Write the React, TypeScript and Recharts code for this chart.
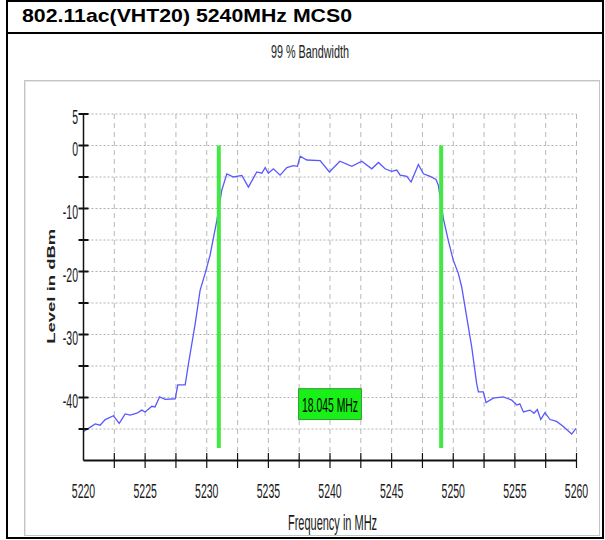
import React from "react";
import {
  LineChart,
  Line,
  XAxis,
  YAxis,
  CartesianGrid,
  ReferenceLine,
  ReferenceArea,
} from "recharts";

// spectrum trace
const freqMHz = [
  5220.0, 5220.4, 5220.95, 5221.35, 5221.76, 5222.43, 5222.9, 5223.38, 5223.79, 5224.33,
  5224.73, 5225.0, 5225.55, 5225.8, 5226.17, 5226.63, 5227.44, 5227.65, 5228.25, 5228.52,
  5229.06, 5229.46, 5229.87, 5230.27, 5230.82, 5231.22, 5231.63, 5232.17, 5232.85, 5233.38,
  5234.06, 5234.47, 5234.74, 5235.0, 5235.41, 5235.95, 5236.5, 5237.03, 5237.36, 5237.58,
  5238.12, 5239.2, 5239.95, 5240.8, 5241.77, 5242.58, 5243.39, 5243.93, 5244.47, 5245.0,
  5245.42, 5245.69, 5246.23, 5246.58, 5247.17, 5247.58, 5248.12, 5248.6, 5248.79, 5249.2,
  5249.6, 5250.0, 5250.41, 5250.69, 5251.09, 5251.5, 5251.9, 5252.04, 5252.44, 5252.66,
  5253.25, 5254.06, 5254.74, 5255.15, 5255.4, 5255.69, 5256.23, 5256.55, 5256.82, 5257.1,
  5257.44, 5257.85, 5258.39, 5258.93, 5259.61, 5259.96,
];

const levelDbm = [
  -45.4, -44.9, -44.2, -44.4, -43.5, -42.9, -44.1, -42.6, -42.8, -42.5,
  -42.0, -42.3, -41.4, -41.5, -39.9, -40.3, -40.2, -38.0, -38.0, -34.6,
  -28.3, -23.0, -20.3, -17.4, -11.9, -7.1, -4.5, -5.0, -4.75, -6.6,
  -4.2, -4.4, -3.5, -4.4, -3.7, -4.7, -3.5, -3.2, -3.3, -1.7,
  -2.3, -2.4, -4.2, -2.5, -3.3, -2.5, -3.7, -2.7, -3.7, -4.1,
  -3.9, -4.7, -4.9, -5.8, -3.0, -4.5, -4.9, -5.4, -6.3, -11.6,
  -15.1, -18.2, -20.3, -22.5, -27.2, -32.0, -37.8, -39.1, -39.1, -40.8,
  -40.1, -39.9, -40.4, -41.2, -41.0, -42.3, -42.0, -42.5, -41.9, -43.5,
  -42.4, -43.5, -43.8, -44.6, -45.8, -44.9,
];

const xTicks = [
  5220, 5222.5, 5225, 5227.5, 5230, 5232.5, 5235, 5237.5, 5240,
  5242.5, 5245, 5247.5, 5250, 5252.5, 5255, 5257.5, 5260,
];
const xLabels = [5220, 5225, 5230, 5235, 5240, 5245, 5250, 5255, 5260];
const yTicks = [-50, -45, -40, -35, -30, -25, -20, -15, -10, -5, 0, 5];
const yLabels = [5, 0, -10, -20, -30, -40];

// 99% occupied bandwidth markers
const obwLow = 5230.98;
const obwHigh = 5249.02;
const obwText = "18.045 MHz";

const spectrum = freqMHz.map((f, i) => ({ freq: f, level: levelDbm[i] }));

const font = "'Liberation Sans', Arial, sans-serif";

function FreqTick({ x, y, payload }: any) {
  const v = payload.value;
  return (
    <g>
      {v !== 5220 && (
        <line x1={x} x2={x} y1={y - 7.5} y2={y + 7.5} stroke="#111" strokeWidth={1.2} />
      )}
      {xLabels.includes(v) && (
        <text
          transform={`translate(${x},${y + 37}) scale(0.5,1)`}
          textAnchor="middle"
          fontSize={21}
          fontFamily={font}
          fill="#1a1a1a"
        >
          {v}
        </text>
      )}
    </g>
  );
}

function LevelTick({ x, y, payload }: any) {
  const v = payload.value;
  return (
    <g>
      {v !== -50 && (
        <line x1={x - 5} x2={x + 5} y1={y} y2={y} stroke="#111" strokeWidth={2} />
      )}
      {yLabels.includes(v) && (
        <text
          transform={`translate(${x - 5.5},${y + 10}) scale(0.5,1)`}
          textAnchor="end"
          fontSize={21}
          fontFamily={font}
          fill="#1a1a1a"
        >
          {v}
        </text>
      )}
    </g>
  );
}

function BoxLabel({ viewBox }: any) {
  const { x, y, width, height } = viewBox;
  return (
    <text
      transform={`translate(${x + width / 2},${y + height / 2 + 8}) scale(0.52,1)`}
      textAnchor="middle"
      fontSize={20}
      fontFamily={font}
      fill="#000"
    >
      {obwText}
    </text>
  );
}

export default function App() {
  return (
    <div style={{ position: "absolute", left: 0, top: 0, width: 605, height: 540, background: "#fff" }}>
      {/* table borders */}
      <div style={{ position: "absolute", left: 6, top: 0, width: 598, height: 2, background: "#000" }} />
      <div style={{ position: "absolute", left: 6, top: 32, width: 598, height: 2, background: "#000" }} />
      <div style={{ position: "absolute", left: 6, top: 537, width: 598, height: 2, background: "#000" }} />
      <div style={{ position: "absolute", left: 6, top: 0, width: 2, height: 539, background: "#000" }} />
      <div style={{ position: "absolute", left: 602, top: 0, width: 2, height: 539, background: "#000" }} />
      <div
        style={{
          position: "absolute",
          left: 22,
          top: 5,
          fontFamily: font,
          fontWeight: "bold",
          fontSize: 19,
          lineHeight: "22px",
          whiteSpace: "nowrap",
          transform: "scaleX(1.12)",
          transformOrigin: "left center",
        }}
      >
        802.11ac(VHT20) 5240MHz MCS0
      </div>
      {/* chart panel */}
      <div
        style={{
          position: "absolute",
          left: 24,
          top: 80,
          width: 574,
          height: 454,
          border: "1px solid #c4c4c4",
          boxShadow: "inset 1px 1px 0 #e6e6e6",
        }}
      />
      <div
        style={{
          position: "absolute",
          left: 210,
          top: 43,
          width: 200,
          textAlign: "center",
          fontFamily: font,
          fontSize: 18,
          lineHeight: "18px",
          color: "#222",
          transform: "scaleX(0.6)",
        }}
      >
        99 % Bandwidth
      </div>
      <div style={{ position: "absolute", left: 0, top: 0 }}>
        <LineChart
          width={605}
          height={540}
          data={spectrum}
          margin={{ top: 114, right: 28.5, bottom: 9.5, left: 23.5 }}
        >
          <CartesianGrid vertical={false} stroke="#b0b0b0" strokeDasharray="2 2" />
          <CartesianGrid horizontal={false} stroke="#b8b8b8" strokeDasharray="5 4" />
          <XAxis
            dataKey="freq"
            type="number"
            domain={[5220, 5260]}
            ticks={xTicks}
            interval={0}
            height={70}
            tickSize={0}
            tickMargin={0}
            tickLine={false}
            tick={<FreqTick />}
            axisLine={{ stroke: "#111", strokeWidth: 2 }}
            label={{
              content: ({ viewBox }: any) => (
                <text
                  transform={`translate(${viewBox.x + viewBox.width / 2 + 2.5},${viewBox.y + 69.5}) scale(0.5,1)`}
                  textAnchor="middle"
                  fontSize={22}
                  fontFamily={font}
                  fill="#1a1a1a"
                >
                  Frequency in MHz
                </text>
              ),
            }}
          />
          <YAxis
            type="number"
            domain={[-50, 5]}
            ticks={yTicks}
            interval={0}
            width={60}
            tickSize={0}
            tickMargin={0}
            tickLine={false}
            tick={<LevelTick />}
            axisLine={{ stroke: "#111", strokeWidth: 1.5 }}
            label={{
              content: ({ viewBox }: any) => (
                <text
                  transform={`translate(${viewBox.x + viewBox.width - 29},${viewBox.y + viewBox.height / 2 - 1}) rotate(-90) scale(1.85,1)`}
                  textAnchor="middle"
                  fontSize={10}
                  fontWeight="bold"
                  fontFamily={font}
                  fill="#222"
                >
                  Level in dBm
                </text>
              ),
            }}
          />
          <ReferenceArea
            x1={5237.45}
            x2={5242.55}
            y1={-43.5}
            y2={-38.6}
            fill="#18f018"
            fillOpacity={1}
            stroke="#2f9a2f"
            strokeWidth={1}
            label={<BoxLabel />}
          />
          <Line
            type="linear"
            dataKey="level"
            stroke="#5858ff"
            strokeWidth={1.3}
            dot={false}
            isAnimationActive={false}
          />
          <ReferenceLine
            segment={[{ x: obwLow, y: 0 }, { x: obwLow, y: -48 }]}
            stroke="#44e844"
            strokeWidth={4}
          />
          <ReferenceLine
            segment={[{ x: obwHigh, y: 0 }, { x: obwHigh, y: -48 }]}
            stroke="#44e844"
            strokeWidth={4}
          />
        </LineChart>
      </div>
    </div>
  );
}
